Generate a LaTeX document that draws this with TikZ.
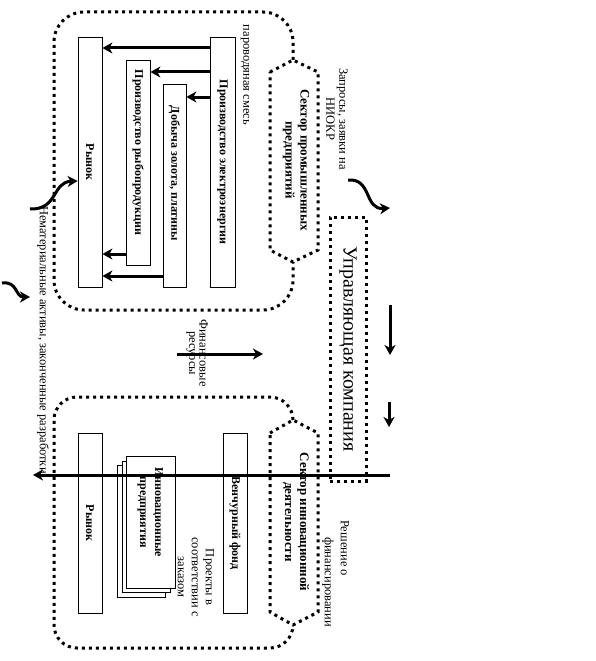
\documentclass[tikz,border=0pt]{standalone}
\usepackage{fontspec}
\setmainfont{Liberation Serif}
\usepackage{graphicx}
\usetikzlibrary{arrows.meta}
\begin{document}
\begin{tikzpicture}[x=1pt,y=-1pt,
  box/.style={draw,line width=0.8pt,inner sep=0pt,fill=white,font=\fontsize{12}{15}\selectfont\bfseries},
  lbl/.style={rotate=-90,align=center,inner sep=0pt,font=\fontsize{13}{15}\selectfont\bfseries},
  small/.style={rotate=-90,align=center,inner sep=0pt,font=\fontsize{12.5}{13}\selectfont},
  dots/.style={line width=3pt,dash pattern=on 3pt off 4pt},
  arr/.style={line width=3pt,-{Stealth[length=10pt,width=11pt,inset=3pt]}},
]
\useasboundingbox[fill=white] (0,0) rectangle (595,661);

% regions
\draw[dots, rounded corners=30pt] (293,60) -- (293,12) -- (54,12) -- (54,310) -- (293,310) -- (293,262);
\draw[dots] (270,72) -- (293,60) -- (318,72) -- (318,250) -- (293,262) -- (270,250) -- cycle;
\draw[dots, rounded corners=23pt] (293,420) -- (293,397) -- (54,397) -- (54,648) -- (293,648) -- (293,625);
\draw[dots] (270,433) -- (293,420) -- (318,433) -- (318,612) -- (293,625) -- (270,612) -- cycle;

% top boxes
\node[box, minimum width=24pt, minimum height=250pt] (ryn1) at (90,162) {\rotatebox{-90}{Рынок}};
\node[box, minimum width=24pt, minimum height=205pt] (fish) at (138,162.5) {\rotatebox{-90}{Производство рыбопродукции\hspace*{20pt}}};
\node[box, minimum width=23pt, minimum height=203pt] (gold) at (174.5,185.5) {\rotatebox{-90}{Добыча золота, платины\hspace*{24pt}}};
\node[box, minimum width=25pt, minimum height=250pt] (elec) at (222.5,162) {\rotatebox{-90}{Производство электроэнергии}};

\node[small] (steam) at (245,75) {пароводяная смесь};
\node[lbl] (secInd) at (296,160) {Сектор промышленных\\предприятий};
\node[small] (zapr) at (337,119) {Запросы, заявки на\\НИОКР};

% control company
\node[draw, dots, minimum width=36pt, minimum height=264pt, inner sep=0pt, font=\fontsize{20}{22}\selectfont] (ctrl) at (348,349) {\rotatebox{-90}{Управляющая компания}};

% bottom boxes
\node[box, minimum width=24pt, minimum height=180pt] (ryn2) at (90,523) {\rotatebox{-90}{Рынок}};
\node[box, minimum width=24pt, minimum height=180pt] (vent) at (235,523) {\rotatebox{-90}{Венчурный фонд}};
\node[box, minimum width=48pt, minimum height=132pt] (inn3) at (141,531) {};
\node[box, minimum width=48pt, minimum height=131pt] (inn2) at (146,526.5) {};
\node[box, minimum width=49pt, minimum height=132pt] (inn1) at (150.5,522) {\rotatebox{-90}{\begin{tabular}{@{}c@{}}Инновационные\\предприятия\end{tabular}\hspace*{20pt}}};

\node[small, font=\fontsize{12.5}{14}\selectfont] (proj) at (196,577) {Проекты в\\соответствии с\\заказом};
\node[lbl] (secInn) at (296,522) {Сектор инновационной\\деятельности};
\node[small, anchor=west] (resh1) at (345,520) {Решение о};
\node[small, anchor=west] (resh2) at (328,537) {финансировании};
\node[small, font=\fontsize{12.5}{10.5}\selectfont] (fin) at (197,353) {Финансовые\\ресурсы};
\node[small] (nemat) at (43,340) {Нематериальные активы, законченные разработки};

% arrows in top region
\draw[arr] (elec.west |- 0,48) -- (ryn1.east |- 0,48);
\draw[arr] (elec.west |- 0,72) -- (fish.east |- 0,72);
\draw[arr] (elec.west |- 0,97) -- (gold.east |- 0,97);
\draw[arr] (fish.west |- 0,254) -- (ryn1.east |- 0,254);
\draw[arr] (gold.west |- 0,276) -- (ryn1.east |- 0,276);

% free arrows
\coordinate (w1) at (30,209);
\draw[arr] (w1) .. controls (58,210) and (52,182) .. (ryn1.west |- 0,181);
\coordinate (c1) at (2,283); \coordinate (c2) at (30,297);
\draw[arr] (c1) .. controls (18,281) and (15,297) .. (c2);
\coordinate (z1) at (348,180); \coordinate (z2) at (390,208);
\draw[arr] (z1) .. controls (372,178) and (364,210) .. (z2);
\coordinate (d1) at (390,305); \coordinate (d2) at (390,355);
\draw[arr] (d1) -- (d2);
\coordinate (d3) at (389,402); \coordinate (d4) at (389,427);
\draw[arr] (d3) -- (d4);
\coordinate (f1) at (177,354); \coordinate (f2) at (263,354);
\draw[arr] (f1) -- (f2);
\coordinate (L1) at (390,475); \coordinate (L2) at (33,475);
\draw[arr] (L1) -- (L2);
\end{tikzpicture}
\end{document}
